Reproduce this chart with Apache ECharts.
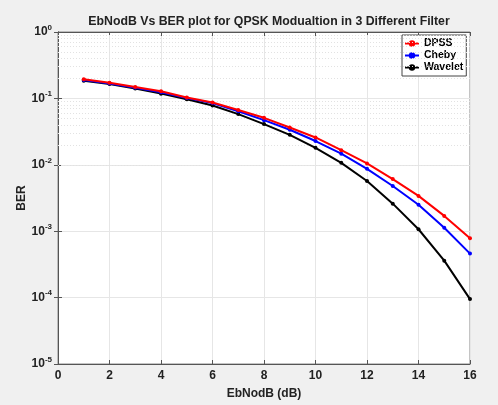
<!DOCTYPE html>
<html><head><meta charset="utf-8">
<script src="https://cdn.jsdelivr.net/npm/echarts@6/dist/echarts.min.js"></script>
<style>html,body{margin:0;padding:0;background:#f0f0f0;}#c{width:498px;height:405px;}</style>
</head><body><div id="c"></div>
<script>
var ebno = [1,2,3,4,5,6,7,8,9,10,11,12,13,14,15,16];
var dpss = [0.195,0.172,0.148,0.128,0.103,0.087,0.067,0.051,0.0365,0.0258,0.0166,0.0105,0.0061,0.0034,0.0017,0.00078];
var cheby = [0.19,0.168,0.145,0.124,0.101,0.085,0.064,0.047,0.0337,0.0228,0.0147,0.0087,0.0048,0.0025,0.00113,0.00046];
var wavelet = [0.184,0.165,0.141,0.118,0.097,0.078,0.058,0.041,0.0283,0.018,0.0107,0.0057,0.0026,0.00107,0.00036,0.000095];
var seriesNames = ['DPSS','Cheby','Wavelet'];
var xTicks = [0,2,4,6,8,10,12,14,16];
var yDecades = [-5,-4,-3,-2,-1,0];

var minorLines = [];
for (var d = -5; d < 0; d++) for (var m = 2; m <= 9; m++) minorLines.push({yAxis: m * Math.pow(10, d)});

function pairs(arr){ return ebno.map(function(x,i){ return [x, arr[i]]; }); }
var FONT = 'Liberation Sans';
var chart = echarts.init(document.getElementById('c'));
var colors = ['#ff0000','#0000ff','#000000'];
var datas = [dpss, cheby, wavelet];
var series = datas.map(function(arr, i){
  return {
    name: seriesNames[i], type: 'line', data: pairs(arr),
    symbol: 'circle', symbolSize: 4, color: colors[i],
    lineStyle: {width: 2, color: colors[i]}, itemStyle: {color: colors[i]},
    z: 10 - i, animation: false
  };
});
series.push({
  type: 'line', data: [], silent: true, animation: false,
  markLine: {silent: true, symbol: 'none', label: {show: false},
    lineStyle: {color: '#e2e2e2', type: [1,2], width: 1}, data: minorLines, animation: false}
});
chart.setOption({
  backgroundColor: '#f0f0f0',
  animation: false,
  title: {text: 'EbNodB Vs BER plot for QPSK Modualtion in 3 Different Filter', left: 264, textAlign: 'center', top: 11,
    textStyle: {fontFamily: FONT, fontSize: 12.3, fontWeight: 'bold', color: '#222'}},
  legend: {data: seriesNames, orient: 'vertical', align: 'left', left: 402, top: 35, itemGap: 1, itemWidth: 14, itemHeight: 8,
    backgroundColor: '#fff', borderColor: '#444', borderWidth: 1, padding: [3,3,3,2],
    textStyle: {fontFamily: FONT, fontSize: 10.5, fontWeight: 'bold', color: '#000'}},
  grid: {left: 58, right: 28, top: 32, bottom: 37, show: true, backgroundColor: '#fff', borderColor: '#888', borderWidth: 1},
  xAxis: [{type: 'value', min: 0, max: 16, interval: 2, position: 'bottom',
    axisLine: {show: true, lineStyle: {color: '#555'}}, axisTick: {inside: true, length: 4, lineStyle: {color: '#555'}},
    axisLabel: {fontFamily: FONT, fontSize: 12, fontWeight: 'bold', color: '#222', margin: 6},
    splitLine: {show: true, lineStyle: {color: '#e6e6e6'}},
    name: 'EbNodB (dB)', nameLocation: 'middle', nameGap: 24, nameMoveOverlap: false,
    nameTextStyle: {fontFamily: FONT, fontSize: 12, fontWeight: 'bold', color: '#222'}},
    {type: 'value', min: 0, max: 16, interval: 2, position: 'top', axisLine: {show: true, lineStyle: {color: '#555'}},
    axisTick: {inside: true, length: 4, lineStyle: {color: '#555'}}, axisLabel: {show: false}, splitLine: {show: false}}],
  yAxis: [{type: 'log', logBase: 10, min: 1e-5, max: 1, position: 'left',
    axisLine: {show: true, lineStyle: {color: '#555'}}, axisTick: {inside: true, length: 4, lineStyle: {color: '#555'}},
    axisLabel: {margin: 6, formatter: function(v){ var e = Math.round(Math.log10(v)); return '{b|10}{s|' + e + '}'; },
      rich: {b: {fontFamily: FONT, fontSize: 12, fontWeight: 'bold', color: '#222'},
             s: {fontFamily: FONT, fontSize: 8, fontWeight: 'bold', color: '#222', padding: [0,0,9,0]}}},
    splitLine: {show: true, lineStyle: {color: '#e6e6e6'}},
    name: 'BER', nameLocation: 'middle', nameGap: 30, nameRotate: 90, nameMoveOverlap: false,
    nameTextStyle: {fontFamily: FONT, fontSize: 12, fontWeight: 'bold', color: '#222'}},
    {type: 'log', logBase: 10, min: 1e-5, max: 1, position: 'right', axisLine: {show: true, lineStyle: {color: '#555'}},
    axisTick: {inside: true, length: 4, lineStyle: {color: '#555'}}, axisLabel: {show: false}, splitLine: {show: false}}],
  series: series
});
</script></body></html>
